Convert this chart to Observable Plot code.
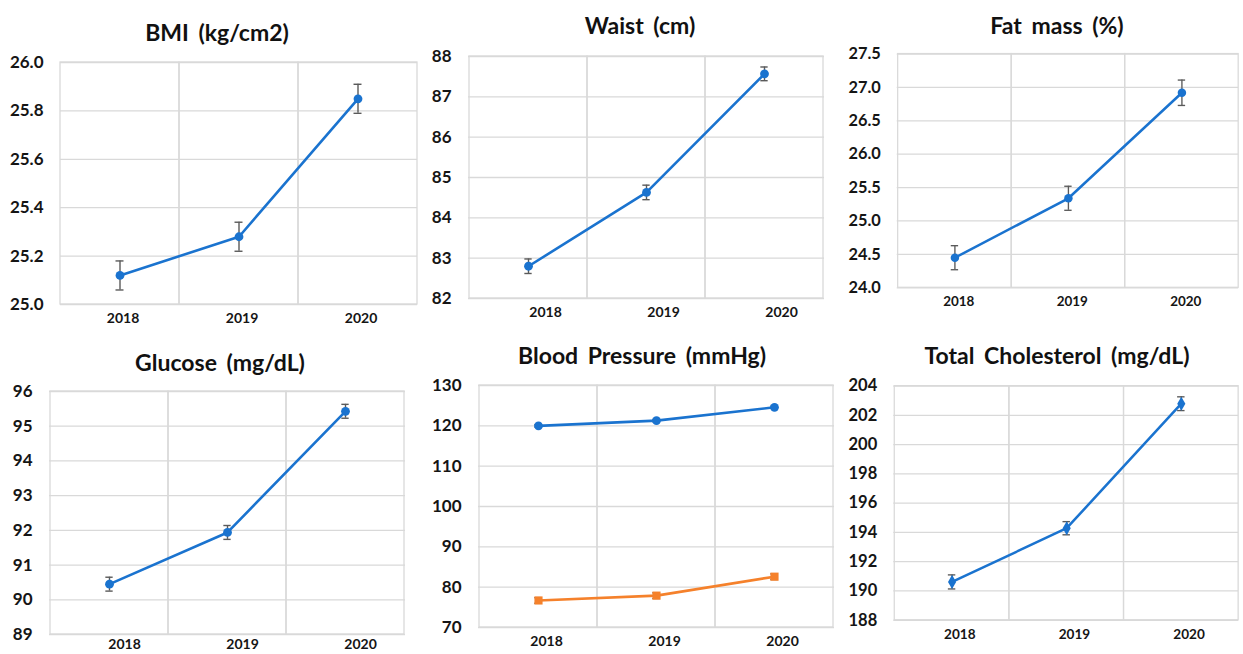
<!DOCTYPE html>
<html><head><meta charset="utf-8">
<script src="https://cdn.jsdelivr.net/npm/d3@7"></script>
<script src="https://cdn.jsdelivr.net/npm/@observablehq/plot@0.6"></script>
<style>
body{margin:0;background:#fff;}
#wrap{position:relative;width:1243px;height:654px;overflow:hidden;background:#fff;font-family:Lato,"Open Sans",sans-serif;}
.panel{position:absolute;}
.title{position:absolute;font-weight:700;font-size:23px;word-spacing:4px;color:#111;white-space:nowrap;transform:translate(-50%,-50%);font-family:Lato,sans-serif;}
</style></head><body><div id="wrap"></div>
<script>
const years = ["2018", "2019", "2020"];

const bmiMean = [25.12, 25.28, 25.85];
const bmiErr = [0.06, 0.06, 0.06];
const bmiTicks = [25.0, 25.2, 25.4, 25.6, 25.8, 26.0];

const waistMean = [82.8, 84.63, 87.57];
const waistErr = [0.18, 0.18, 0.17];
const waistTicks = [82, 83, 84, 85, 86, 87, 88];

const fatMean = [24.45, 25.34, 26.92];
const fatErr = [0.18, 0.18, 0.19];
const fatTicks = [24.0, 24.5, 25.0, 25.5, 26.0, 26.5, 27.0, 27.5];

const glucoseMean = [90.45, 91.94, 95.43];
const glucoseErr = [0.2, 0.2, 0.2];
const glucoseTicks = [89, 90, 91, 92, 93, 94, 95, 96];

const systolicMean = [120.0, 121.3, 124.6];
const systolicErr = [0.3, 0.3, 0.3];
const diastolicMean = [76.7, 77.9, 82.6];
const diastolicErr = [0.7, 0.7, 0.7];
const bpTicks = [70, 80, 90, 100, 110, 120, 130];

const cholMean = [190.62, 194.29, 202.8];
const cholErr = [0.48, 0.45, 0.47];
const cholTicks = [188, 190, 192, 194, 196, 198, 200, 202, 204];

const BLUE = "#1a73cf", ORANGE = "#f5812b", ERR = "#5a5a5a", GRID = "#d9d9d9";

function rows(mean, err) { return years.map((y, i) => ({year: y, mean: mean[i], err: err[i]})); }

const panels = [
  {title: "BMI (kg/cm2)", tx: 217, ty: 32, L: 60, R: 417, T: 62, B: 304, ticks: bmiTicks, fmt: ".1f", dx: 3, pad: 9,
   series: [{data: rows(bmiMean, bmiErr), color: BLUE, symbol: "circle"}]},
  {title: "Waist (cm)", tx: 640, ty: 25, L: 468, R: 824, T: 56, B: 298, ticks: waistTicks, fmt: "d", dx: 17, pad: 9,
   series: [{data: rows(waistMean, waistErr), color: BLUE, symbol: "circle"}]},
  {title: "Fat mass (%)", tx: 1057, ty: 25, L: 899, R: 1254, T: 54, B: 297, ticks: fatTicks, fmt: ".1f", dx: 4, pad: 9,
   series: [{data: rows(fatMean, fatErr), color: BLUE, symbol: "circle"}]},
  {title: "Glucose (mg/dL)", tx: 220, ty: 362, L: 49, R: 405, T: 391, B: 634, ticks: glucoseTicks, fmt: "d", dx: 15, pad: 5,
   series: [{data: rows(glucoseMean, glucoseErr), color: BLUE, symbol: "circle"}]},
  {title: "Blood Pressure (mmHg)", tx: 642, ty: 355, L: 478, R: 834, T: 385, B: 627, ticks: bpTicks, fmt: "d", dx: 8, pad: 9,
   series: [{data: rows(systolicMean, systolicErr), color: BLUE, symbol: "circle"},
            {data: rows(diastolicMean, diastolicErr), color: ORANGE, symbol: "square"}]},
  {title: "Total Cholesterol (mg/dL)", tx: 1057, ty: 355, L: 895, R: 1250, T: 386, B: 627, ticks: cholTicks, fmt: "d", dx: 8, pad: 9,
   series: [{data: rows(cholMean, cholErr), color: BLUE, symbol: "diamond"}]}
];

const wrap = document.getElementById("wrap");
const mL = 60, mR = 5, mT = 12, mB = 34;

for (const p of panels) {
  const w = p.R - p.L, h = p.B - p.T;
  const bw = w / years.length;
  const inset = (bw - 8) / 2;
  const marks = [
    Plot.ruleY(p.ticks, {stroke: GRID, strokeWidth: 1.3}),
    Plot.cell(years, {x: d => d, stroke: GRID, strokeWidth: 1.3, fill: "none"}),
    Plot.axisY({ticks: p.ticks, tickSize: 0, tickPadding: 17, tickFormat: d3.format(p.fmt), fontSize: 17, fontWeight: "bold", fill: "#151515", label: null}),
    Plot.axisX({tickSize: 0, tickPadding: p.pad, fontSize: 14, fontWeight: "bold", fill: "#151515", label: null, dx: p.dx})
  ];
  for (const s of p.series) {
    marks.push(
      Plot.ruleX(s.data, {x: "year", y1: d => d.mean - d.err, y2: d => d.mean + d.err, stroke: ERR, strokeWidth: 1.4}),
      Plot.tickY(s.data, {x: "year", y: d => d.mean - d.err, stroke: ERR, strokeWidth: 1.4, insetLeft: inset, insetRight: inset}),
      Plot.tickY(s.data, {x: "year", y: d => d.mean + d.err, stroke: ERR, strokeWidth: 1.4, insetLeft: inset, insetRight: inset}),
      Plot.line(s.data, {x: "year", y: "mean", stroke: s.color, strokeWidth: 2.6}),
      Plot.dot(s.data, {x: "year", y: "mean", symbol: s.symbol, fill: s.color, stroke: "none", r: s.symbol === "square" ? 4.6 : 4.4})
    );
  }
  const chart = Plot.plot({
    width: w + mL + mR,
    height: h + mT + mB,
    marginLeft: mL, marginRight: mR, marginTop: mT, marginBottom: mB,
    style: {fontFamily: "Lato, sans-serif", background: "transparent", overflow: "visible"},
    x: {type: "band", domain: years, padding: 0},
    y: {domain: [p.ticks[0], p.ticks[p.ticks.length - 1]]},
    marks
  });
  const div = document.createElement("div");
  div.className = "panel";
  div.style.left = (p.L - mL) + "px";
  div.style.top = (p.T - mT) + "px";
  div.appendChild(chart);
  wrap.appendChild(div);
  const t = document.createElement("div");
  t.className = "title";
  t.textContent = p.title;
  t.style.left = p.tx + "px";
  t.style.top = p.ty + "px";
  wrap.appendChild(t);
}
</script>
</body></html>
